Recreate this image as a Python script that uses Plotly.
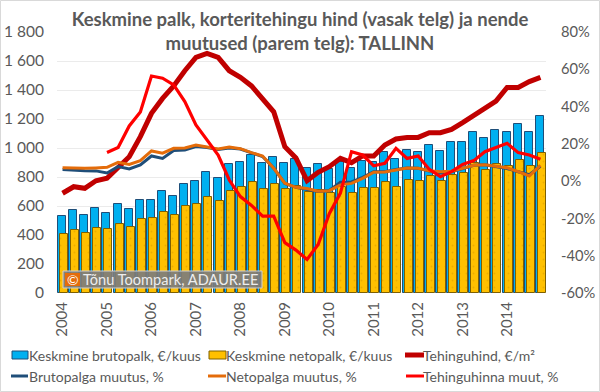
import plotly.graph_objects as go

quarters = list(range(44))
year_ticks = [0, 4, 8, 12, 16, 20, 24, 28, 32, 36, 40]
year_labels = ["2004", "2005", "2006", "2007", "2008", "2009", "2010", "2011", "2012", "2013", "2014"]
left_ticks = [0, 200, 400, 600, 800, 1000, 1200, 1400, 1600, 1800]
left_labels = ["0", "200", "400", "600", "800", "1 000", "1 200", "1 400", "1 600", "1 800"]
right_ticks = [-60, -40, -20, 0, 20, 40, 60, 80]
right_labels = ["-60%", "-40%", "-20%", "0%", "20%", "40%", "60%", "80%"]

brutopalk = [531, 570, 540, 586, 554, 616, 577, 641, 641, 701, 671, 752, 772, 832, 795,
             887, 903, 952, 894, 936, 894, 922, 860, 887, 853, 906, 860, 912, 906,
             970, 924, 988, 970, 1018, 981, 1039, 1039, 1108, 1069, 1122, 1113, 1163, 1113, 1223]
netopalk = [409, 432, 411, 450, 439, 478, 455, 508, 515, 556, 535, 597, 616, 662, 632,
            706, 728, 768, 720, 754, 715, 740, 697, 713, 687, 733, 687, 726, 726,
            768, 733, 781, 772, 807, 772, 816, 825, 895, 848, 887, 878, 917, 878, 967]
tehinguhind = [688, 733, 722, 774, 791, 860, 940, 1078, 1239, 1342, 1428, 1533, 1625, 1653, 1625,
               1533, 1487, 1428, 1336, 1250, 1009, 931, 774, 832, 871, 929, 899, 945, 945,
               1021, 1062, 1073, 1073, 1106, 1106, 1128, 1175, 1223, 1269, 1324, 1418, 1418, 1458, 1487]
bruto_muutus = [6.2, 5.8, 5.6, 5.5, 4.4, 7.8, 6.5, 8.7, 13.5, 12.2, 16.4, 16.7, 18.6, 18, 17,
                17.8, 17.2, 15.2, 13.2, 7, -1.2, -3.3, -4.2, -5.5, -5, -0.6, -0.4, 2, 5,
                5, 6.2, 7.1, 6.9, 5.4, 4.6, 5, 6.7, 8.5, 8.8, 8, 6.8, 5, 3.5, 8]
neto_muutus = [7.2, 6.9, 6.9, 7.1, 7.4, 10.1, 9, 11, 16.2, 15, 17.6, 17.8, 19.4, 18.3, 17.3,
               18.3, 17.4, 15.3, 13.5, 6.9, -1.1, -3.3, -4, -5.4, -5.1, -2, -1.2, 1.5, 4.8,
               4.9, 6, 7.1, 6.9, 5.6, 5.1, 5.3, 6.9, 8.5, 8.8, 8.2, 7.2, 5.1, 2.8, 8.5]
hinna_muut = [None, None, None, None, 15.4, 18, 29.6, 37.1, 56.4, 55.2, 51.6, 42.7, 30.1, 22.1, 14,
              0.6, -8.3, -13, -18.8, -18.8, -33, -37, -42, -34, -17.5, -6.4, 15.8, 14, 8.2,
              9.6, 17.6, 12.2, 13.5, 6.3, 2.4, 5.1, 9, 11, 15.8, 18, 20.3, 15.3, 14, 11.7]

GREY = "#595959"
FONT = "Lato"
BLUE, YELLOW, DARKRED, NAVY, ORANGE, RED = "#00B0F0", "#FFC000", "#C00000", "#1F4E79", "#E46C0A", "#FF0000"
W, H = 600, 392
L, R, T, B = 57, 546, 32, 293
px = lambda v: (v - L) / (R - L)
py = lambda v: (B - v) / (B - T)

fig = go.Figure()


def bars(name, values, color, edge, offset):
    fig.add_trace(go.Bar(
        x=quarters, y=values, name=name, width=0.72, offset=offset, showlegend=False,
        marker=dict(color=color, line=dict(color=edge, width=1),
                    pattern=dict(shape=".", fgcolor="#d89a00", bgcolor=color, size=7, solidity=0.06)
                    if color == YELLOW else None),
    ))


def line(name, values, color, width, axis):
    fig.add_trace(go.Scatter(x=quarters, y=values, name=name, mode="lines", yaxis=axis, showlegend=False,
                             line=dict(color=color, width=width)))


bars("Keskmine brutopalk, €/kuus", brutopalk, BLUE, NAVY, -0.41)
bars("Keskmine netopalk, €/kuus", netopalk, YELLOW, "#7F6000", -0.23)
line("Tehinguhind, €/m²", tehinguhind, DARKRED, 5, "y")
line("Brutopalga muutus, %", bruto_muutus, NAVY, 3, "y2")
line("Netopalga muutus, %", neto_muutus, ORANGE, 3, "y2")
line("Tehinguhinna muut, %", hinna_muut, RED, 3.2, "y2")


def paper_rect(x0, x1, y0, y1, fill, edge=None, layer="above"):
    return dict(type="rect", xref="paper", yref="paper", x0=px(x0), x1=px(x1), y0=py(y1), y1=py(y0),
                fillcolor=fill, layer=layer,
                line=dict(color=edge, width=1) if edge else dict(width=0))


def paper_line(x0, x1, y, color, width):
    return dict(type="line", xref="paper", yref="paper", x0=px(x0), x1=px(x1), y0=py(y), y1=py(y),
                line=dict(color=color, width=width))


def label(x, y, text, size=14, color=GREY, anchor="left"):
    return dict(xref="paper", yref="paper", x=px(x), y=py(y), xanchor=anchor, yanchor="middle",
                text=text, showarrow=False, font=dict(family=FONT, size=size, color=color),
                xshift=0, borderpad=0, borderwidth=0)


fig.update_layout(
    width=W, height=H, barmode="overlay", paper_bgcolor="white", plot_bgcolor="white",
    margin=dict(l=L, r=W - R, t=T, b=H - B, autoexpand=False),
    font=dict(family=FONT, color=GREY), showlegend=False,
    title=dict(text="Keskmine palk, korteritehingu hind (vasak telg) ja nende<br>muutused (parem telg): TALLINN",
               x=0.5, xanchor="center", xref="container", y=0.933, yanchor="top", yref="container",
               font=dict(family=FONT, size=18.5, color=GREY, weight="bold")),
    xaxis=dict(range=[-0.5, 43.5], tickmode="array", tickvals=year_ticks, ticktext=year_labels,
               tickangle=-90, tickfont=dict(size=15, color=GREY), showgrid=False, ticks="",
               showline=False, zeroline=False, ticklabelstandoff=5),
    yaxis=dict(range=[0, 1800], tickmode="array", tickvals=left_ticks, ticktext=left_labels,
               tickfont=dict(size=15.5, color=GREY), gridcolor="#EBEBEB", gridwidth=1,
               zeroline=False, ticks="", ticklabelstandoff=12),
    yaxis2=dict(range=[-60, 80], overlaying="y", side="right", tickmode="array", tickvals=right_ticks,
                ticktext=right_labels, tickfont=dict(size=14.7, color=GREY), showgrid=False, zeroline=False,
                ticks="", ticklabelstandoff=14),
    bargap=0,
    shapes=[
        paper_rect(0.5, W - 0.5, 0.5, H - 0.5, "rgba(0,0,0,0)", "#D9D9D9", "below"),
        paper_rect(63, 262, 271, 288, "rgba(125,125,125,0.92)", "#D0D0D0"),
        paper_rect(65, 80, 273, 286, ORANGE),
        paper_rect(12, 28, 351, 359, BLUE, NAVY),
        paper_rect(209, 226, 351, 359, YELLOW, "#7F6000"),
        paper_line(405, 424, 355, DARKRED, 5),
        paper_line(11, 28, 376, NAVY, 3),
        paper_line(208, 226, 376, ORANGE, 3),
        paper_line(406, 424, 376, RED, 3),
    ],
    annotations=[
        label(83, 279.5, "Tõnu Toompark, ADAUR.EE", 14.6, "#EDEDED"),
        label(72.5, 279.5, "©", 14, "white", "center"),
        label(29, 355, "Keskmine brutopalk, €/kuus"),
        label(226, 355, "Keskmine netopalk, €/kuus"),
        label(423, 355, "Tehinguhind, €/m²"),
        label(29, 376, "Brutopalga muutus, %"),
        label(226, 376, "Netopalga muutus, %"),
        label(423, 376, "Tehinguhinna muut, %"),
    ],
)

fig.write_html("out.html", post_script="document.body.style.margin='0';", config={"displayModeBar": False})
